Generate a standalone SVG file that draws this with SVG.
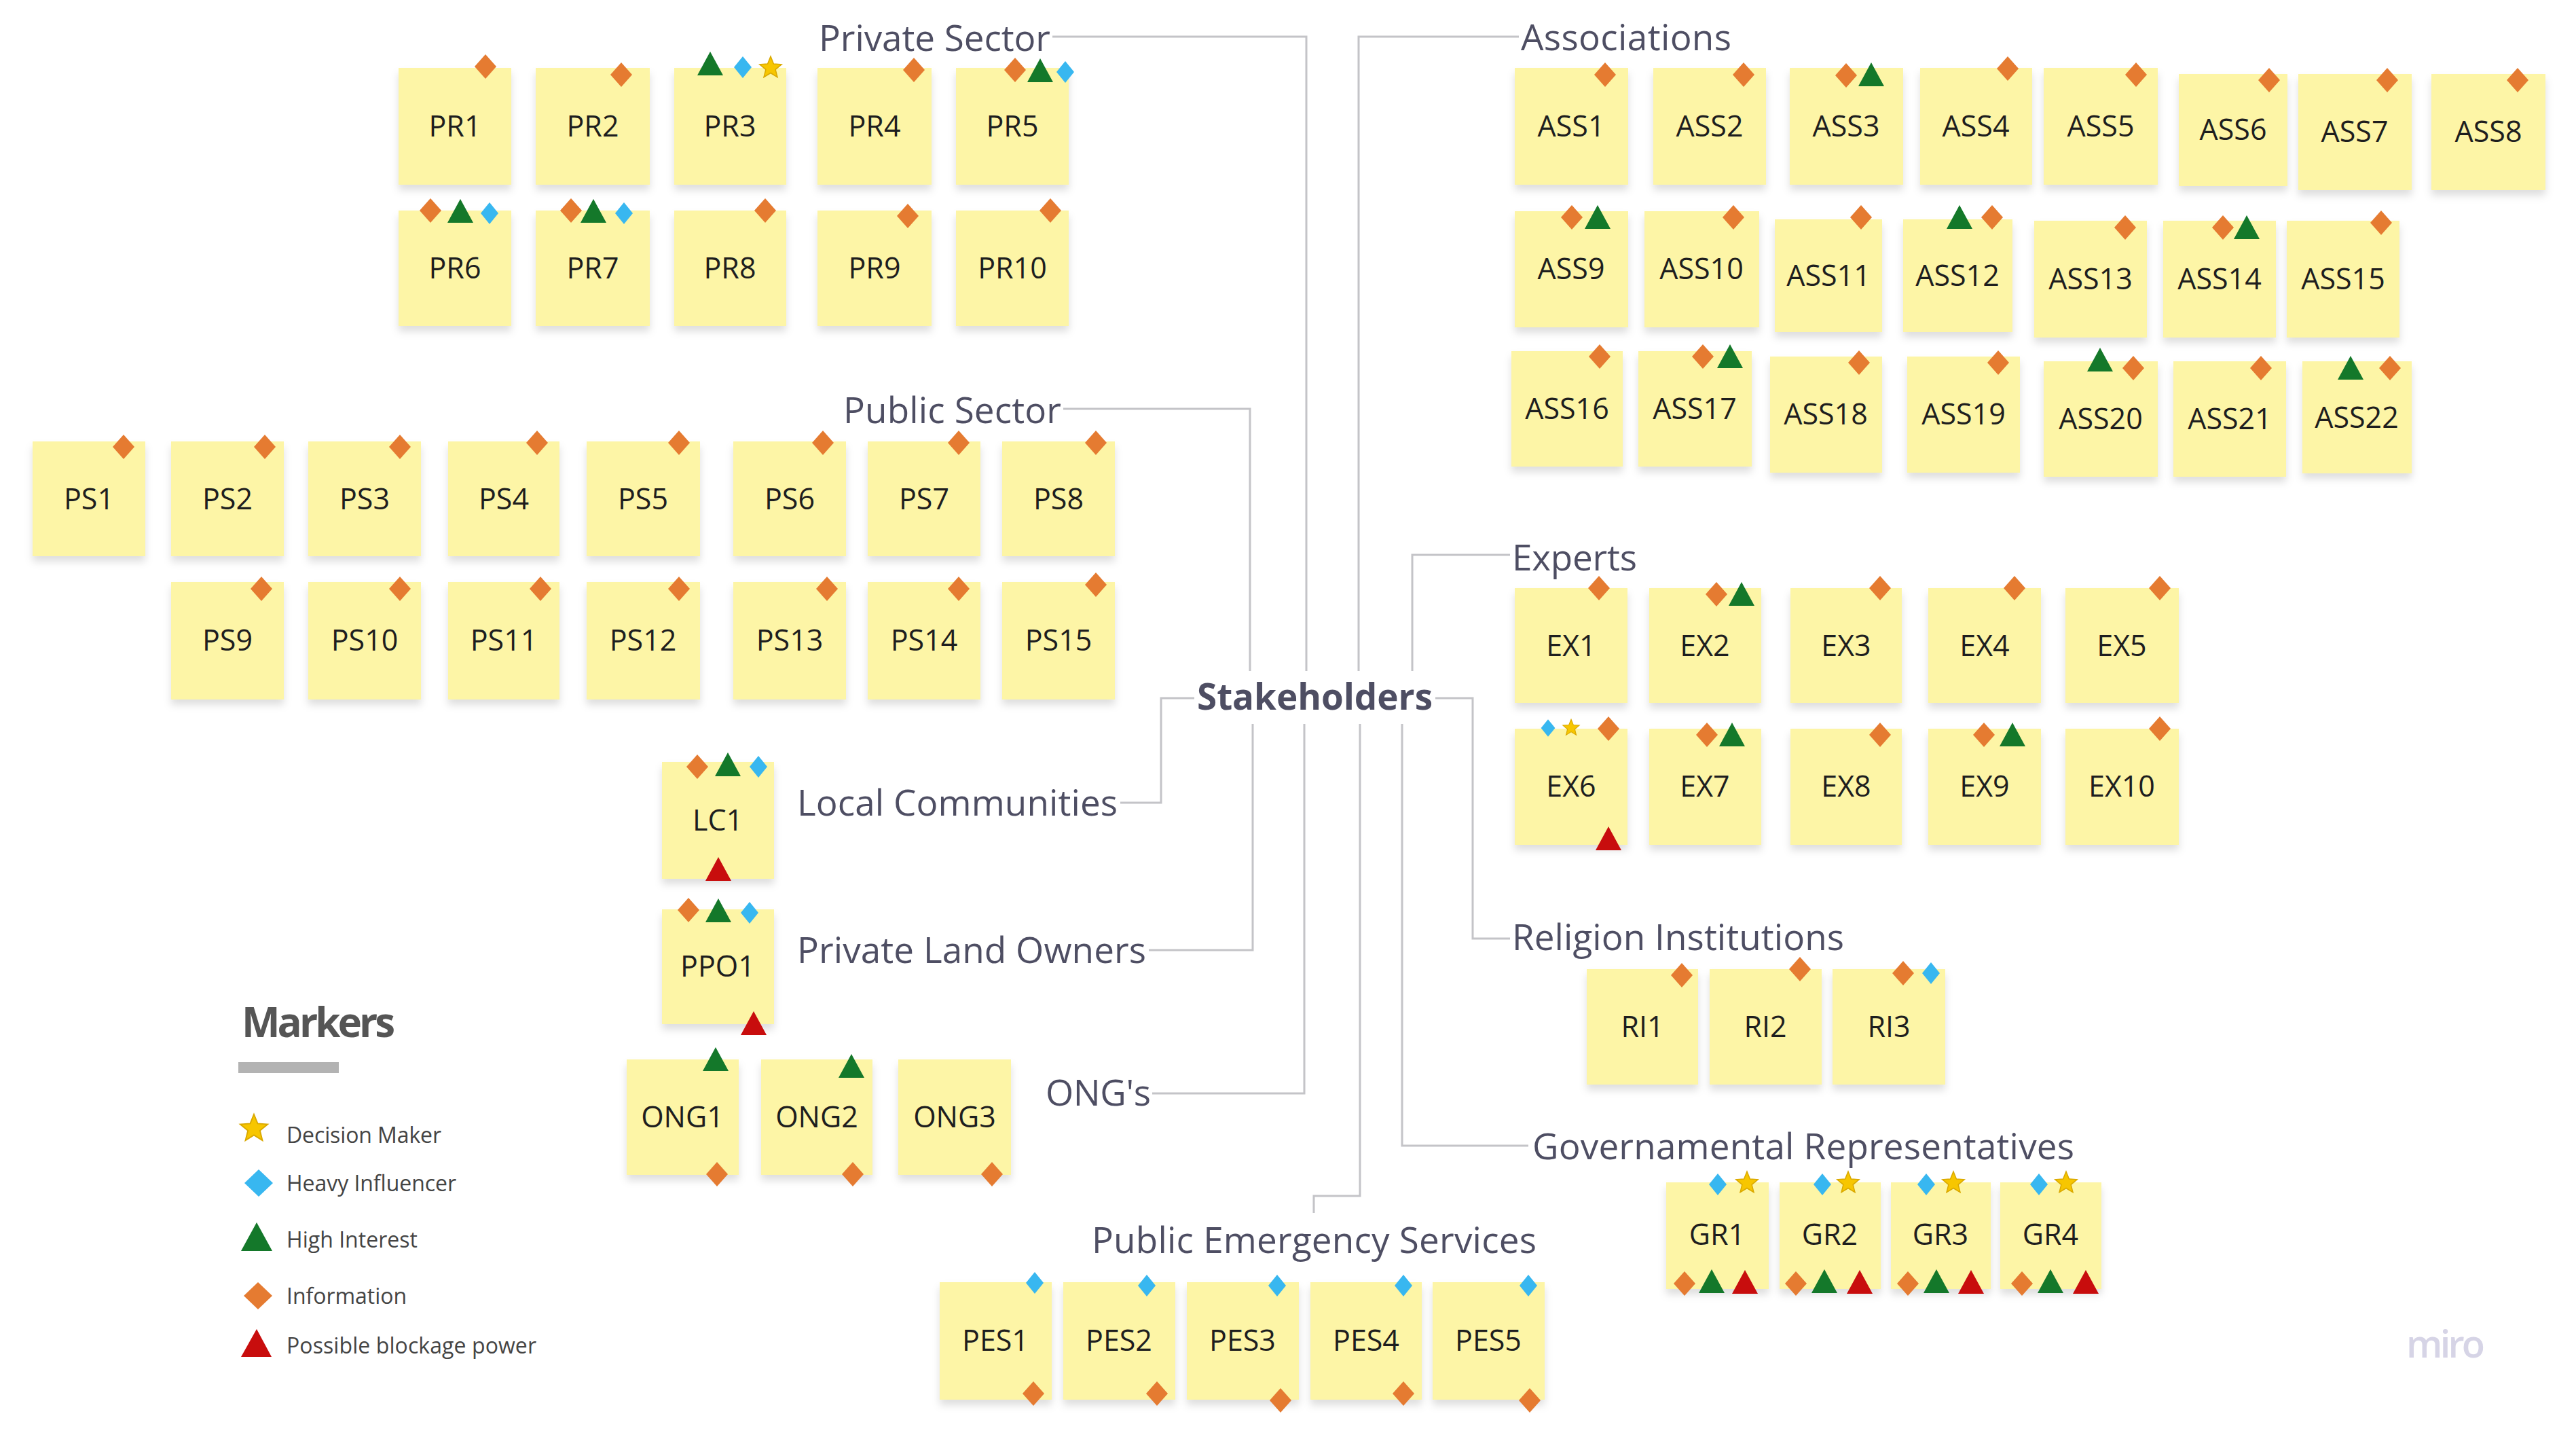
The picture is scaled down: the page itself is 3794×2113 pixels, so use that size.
<svg xmlns="http://www.w3.org/2000/svg" width="3794" height="2113" viewBox="0 0 3794 2113">
<style>
.n{fill:#fdf5a6}
.nt{font-family:"Open Sans","Liberation Sans",sans-serif;font-size:43px;fill:#1e1e1e;text-anchor:middle}
.lb{font-family:"Open Sans","Liberation Sans",sans-serif;font-size:53px;fill:#4e4e63}
.cn{fill:none;stroke:#c4c4c8;stroke-width:3}
.lg{font-family:"Open Sans","Liberation Sans",sans-serif;font-size:32px;fill:#444}
</style>
<defs>
<filter id="sh" x="-10%" y="-10%" width="120%" height="135%"><feDropShadow dx="0" dy="8" stdDeviation="6" flood-color="#000" flood-opacity="0.13"/></filter>
<polygon id="mI" points="0,-18 16,0 0,18 -16,0" fill="#e57b31"/>
<polygon id="mH" points="0,-16 13,0 0,16 -13,0" fill="#38b7f0"/>
<polygon id="mG" points="0,-18 19,17 -19,17" fill="#14782a"/>
<polygon id="mR" points="0,-18 19,17 -19,17" fill="#c80d0d"/>
<polygon id="mS" points="0,-17 4.41,-6.07 16.17,-5.25 7.13,2.32 9.99,13.75 0,7.5 -9.99,13.75 -7.13,2.32 -16.17,-5.25 -4.41,-6.07" fill="#f7c600" stroke="#d9a800" stroke-width="1.5"/>
</defs>
<rect width="3794" height="2113" fill="#fff"/>

<g id="connectors">
<path class="cn" d="M1550,54 H1924 V988"/>
<path class="cn" d="M1566,602 H1841 V988"/>
<path class="cn" d="M2001,988 V54 H2237"/>
<path class="cn" d="M2080,988 V817 H2224"/>
<path class="cn" d="M1759,1028 H1710 V1182 H1650"/>
<path class="cn" d="M2114,1028 H2169 V1382 H2224"/>
<path class="cn" d="M1845,1066 V1399 H1692"/>
<path class="cn" d="M1921,1066 V1610 H1697"/>
<path class="cn" d="M2003,1066 V1761 H1935 V1786"/>
<path class="cn" d="M2065,1066 V1687 H2251"/>
</g>

<g id="labels">
<text id="lbl-stakeholders" x="1763" y="1045" class="lb" font-weight="bold" textLength="347">Stakeholders</text>
<text id="lbl-private" x="1206" y="75" class="lb" textLength="341">Private Sector</text>
<text id="lbl-public" x="1242" y="623" class="lb" textLength="321">Public Sector</text>
<text id="lbl-assoc" x="2240" y="74" class="lb" textLength="310">Associations</text>
<text id="lbl-experts" x="2227" y="840" class="lb" textLength="184">Experts</text>
<text id="lbl-local" x="1174" y="1201" class="lb" textLength="472">Local Communities</text>
<text id="lbl-plo" x="1174" y="1418" class="lb" textLength="514">Private Land Owners</text>
<text id="lbl-ong" x="1540" y="1628" class="lb" textLength="155">ONG's</text>
<text id="lbl-religion" x="2227" y="1399" class="lb" textLength="489">Religion Institutions</text>
<text id="lbl-gov" x="2257" y="1707" class="lb" textLength="798">Governamental Representatives</text>
<text id="lbl-pes" x="1608" y="1845" class="lb" textLength="655">Public Emergency Services</text>
</g>

<!-- Private sector -->
<g id="PR1"><rect class="n" x="587" y="100" width="166" height="172" filter="url(#sh)"/><text class="nt" x="670" y="201">PR1</text><use href="#mI" x="715" y="98"/></g>
<g id="PR2"><rect class="n" x="789" y="100" width="168" height="172" filter="url(#sh)"/><text class="nt" x="873" y="201">PR2</text><use href="#mI" x="915" y="110"/></g>
<g id="PR3"><rect class="n" x="993" y="100" width="165" height="172" filter="url(#sh)"/><text class="nt" x="1075" y="201">PR3</text><use href="#mG" x="1046" y="94"/><use href="#mH" x="1094" y="99"/><use href="#mS" x="1135" y="100"/></g>
<g id="PR4"><rect class="n" x="1204" y="100" width="168" height="172" filter="url(#sh)"/><text class="nt" x="1288" y="201">PR4</text><use href="#mI" x="1346" y="103"/></g>
<g id="PR5"><rect class="n" x="1408" y="100" width="166" height="172" filter="url(#sh)"/><text class="nt" x="1491" y="201">PR5</text><use href="#mI" x="1495" y="103"/><use href="#mG" x="1532" y="104"/><use href="#mH" x="1569" y="106"/></g>
<g id="PR6"><rect class="n" x="587" y="310" width="166" height="170" filter="url(#sh)"/><text class="nt" x="670" y="410">PR6</text><use href="#mI" x="634" y="310"/><use href="#mG" x="678" y="311"/><use href="#mH" x="721" y="314"/></g>
<g id="PR7"><rect class="n" x="789" y="310" width="168" height="170" filter="url(#sh)"/><text class="nt" x="873" y="410">PR7</text><use href="#mI" x="841" y="310"/><use href="#mG" x="874" y="311"/><use href="#mH" x="919" y="314"/></g>
<g id="PR8"><rect class="n" x="993" y="310" width="165" height="170" filter="url(#sh)"/><text class="nt" x="1075" y="410">PR8</text><use href="#mI" x="1127" y="310"/></g>
<g id="PR9"><rect class="n" x="1204" y="310" width="168" height="170" filter="url(#sh)"/><text class="nt" x="1288" y="410">PR9</text><use href="#mI" x="1337" y="318"/></g>
<g id="PR10"><rect class="n" x="1408" y="310" width="166" height="170" filter="url(#sh)"/><text class="nt" x="1491" y="410">PR10</text><use href="#mI" x="1547" y="310"/></g>

<!-- Public sector -->
<g id="PS1"><rect class="n" x="48" y="650" width="166" height="169" filter="url(#sh)"/><text class="nt" x="131" y="750">PS1</text><use href="#mI" x="182" y="658"/></g>
<g id="PS2"><rect class="n" x="252" y="650" width="166" height="169" filter="url(#sh)"/><text class="nt" x="335" y="750">PS2</text><use href="#mI" x="390" y="658"/></g>
<g id="PS3"><rect class="n" x="454" y="650" width="166" height="169" filter="url(#sh)"/><text class="nt" x="537" y="750">PS3</text><use href="#mI" x="589" y="658"/></g>
<g id="PS4"><rect class="n" x="660" y="650" width="164" height="169" filter="url(#sh)"/><text class="nt" x="742" y="750">PS4</text><use href="#mI" x="791" y="652"/></g>
<g id="PS5"><rect class="n" x="864" y="650" width="167" height="169" filter="url(#sh)"/><text class="nt" x="947" y="750">PS5</text><use href="#mI" x="1000" y="652"/></g>
<g id="PS6"><rect class="n" x="1080" y="650" width="166" height="169" filter="url(#sh)"/><text class="nt" x="1163" y="750">PS6</text><use href="#mI" x="1212" y="652"/></g>
<g id="PS7"><rect class="n" x="1278" y="650" width="166" height="169" filter="url(#sh)"/><text class="nt" x="1361" y="750">PS7</text><use href="#mI" x="1412" y="652"/></g>
<g id="PS8"><rect class="n" x="1476" y="650" width="166" height="169" filter="url(#sh)"/><text class="nt" x="1559" y="750">PS8</text><use href="#mI" x="1614" y="652"/></g>
<g id="PS9"><rect class="n" x="252" y="857" width="166" height="173" filter="url(#sh)"/><text class="nt" x="335" y="958">PS9</text><use href="#mI" x="385" y="867"/></g>
<g id="PS10"><rect class="n" x="454" y="857" width="166" height="173" filter="url(#sh)"/><text class="nt" x="537" y="958">PS10</text><use href="#mI" x="589" y="867"/></g>
<g id="PS11"><rect class="n" x="660" y="857" width="164" height="173" filter="url(#sh)"/><text class="nt" x="742" y="958">PS11</text><use href="#mI" x="796" y="867"/></g>
<g id="PS12"><rect class="n" x="864" y="857" width="167" height="173" filter="url(#sh)"/><text class="nt" x="947" y="958">PS12</text><use href="#mI" x="1000" y="867"/></g>
<g id="PS13"><rect class="n" x="1080" y="857" width="166" height="173" filter="url(#sh)"/><text class="nt" x="1163" y="958">PS13</text><use href="#mI" x="1218" y="867"/></g>
<g id="PS14"><rect class="n" x="1278" y="857" width="166" height="173" filter="url(#sh)"/><text class="nt" x="1361" y="958">PS14</text><use href="#mI" x="1412" y="867"/></g>
<g id="PS15"><rect class="n" x="1476" y="857" width="166" height="173" filter="url(#sh)"/><text class="nt" x="1559" y="958">PS15</text><use href="#mI" x="1614" y="861"/></g>

<!-- Associations -->
<g id="ASS1"><rect class="n" x="2231" y="100" width="167" height="172" filter="url(#sh)"/><text class="nt" x="2314" y="201">ASS1</text><use href="#mI" x="2364" y="110"/></g>
<g id="ASS2"><rect class="n" x="2435" y="100" width="166" height="172" filter="url(#sh)"/><text class="nt" x="2518" y="201">ASS2</text><use href="#mI" x="2568" y="110"/></g>
<g id="ASS3"><rect class="n" x="2636" y="100" width="167" height="172" filter="url(#sh)"/><text class="nt" x="2719" y="201">ASS3</text><use href="#mI" x="2719" y="111"/><use href="#mG" x="2756" y="110"/></g>
<g id="ASS4"><rect class="n" x="2828" y="100" width="165" height="172" filter="url(#sh)"/><text class="nt" x="2910" y="201">ASS4</text><use href="#mI" x="2957" y="101"/></g>
<g id="ASS5"><rect class="n" x="3010" y="100" width="168" height="172" filter="url(#sh)"/><text class="nt" x="3094" y="201">ASS5</text><use href="#mI" x="3146" y="110"/></g>
<g id="ASS6"><rect class="n" x="3209" y="109" width="160" height="165" filter="url(#sh)"/><text class="nt" x="3289" y="206">ASS6</text><use href="#mI" x="3342" y="118"/></g>
<g id="ASS7"><rect class="n" x="3385" y="109" width="167" height="171" filter="url(#sh)"/><text class="nt" x="3468" y="209">ASS7</text><use href="#mI" x="3516" y="118"/></g>
<g id="ASS8"><rect class="n" x="3581" y="109" width="168" height="171" filter="url(#sh)"/><text class="nt" x="3665" y="209">ASS8</text><use href="#mI" x="3708" y="118"/></g>
<g id="ASS9"><rect class="n" x="2231" y="311" width="167" height="171" filter="url(#sh)"/><text class="nt" x="2314" y="411">ASS9</text><use href="#mI" x="2315" y="320"/><use href="#mG" x="2353" y="320"/></g>
<g id="ASS10"><rect class="n" x="2422" y="311" width="169" height="171" filter="url(#sh)"/><text class="nt" x="2506" y="411">ASS10</text><use href="#mI" x="2553" y="320"/></g>
<g id="ASS11"><rect class="n" x="2614" y="323" width="158" height="166" filter="url(#sh)"/><text class="nt" x="2693" y="421">ASS11</text><use href="#mI" x="2741" y="320"/></g>
<g id="ASS12"><rect class="n" x="2803" y="323" width="161" height="166" filter="url(#sh)"/><text class="nt" x="2883" y="421">ASS12</text><use href="#mG" x="2886" y="320"/><use href="#mI" x="2934" y="320"/></g>
<g id="ASS13"><rect class="n" x="2996" y="325" width="166" height="172" filter="url(#sh)"/><text class="nt" x="3079" y="426">ASS13</text><use href="#mI" x="3130" y="335"/></g>
<g id="ASS14"><rect class="n" x="3186" y="325" width="166" height="172" filter="url(#sh)"/><text class="nt" x="3269" y="426">ASS14</text><use href="#mI" x="3274" y="335"/><use href="#mG" x="3309" y="335"/></g>
<g id="ASS15"><rect class="n" x="3368" y="325" width="166" height="172" filter="url(#sh)"/><text class="nt" x="3451" y="426">ASS15</text><use href="#mI" x="3507" y="328"/></g>
<g id="ASS16"><rect class="n" x="2226" y="517" width="164" height="170" filter="url(#sh)"/><text class="nt" x="2308" y="617">ASS16</text><use href="#mI" x="2356" y="525"/></g>
<g id="ASS17"><rect class="n" x="2413" y="517" width="167" height="170" filter="url(#sh)"/><text class="nt" x="2496" y="617">ASS17</text><use href="#mI" x="2508" y="525"/><use href="#mG" x="2548" y="525"/></g>
<g id="ASS18"><rect class="n" x="2607" y="525" width="165" height="171" filter="url(#sh)"/><text class="nt" x="2689" y="625">ASS18</text><use href="#mI" x="2738" y="534"/></g>
<g id="ASS19"><rect class="n" x="2809" y="525" width="166" height="171" filter="url(#sh)"/><text class="nt" x="2892" y="625">ASS19</text><use href="#mI" x="2943" y="534"/></g>
<g id="ASS20"><rect class="n" x="3010" y="532" width="168" height="170" filter="url(#sh)"/><text class="nt" x="3094" y="632">ASS20</text><use href="#mG" x="3093" y="530"/><use href="#mI" x="3142" y="542"/></g>
<g id="ASS21"><rect class="n" x="3201" y="532" width="166" height="170" filter="url(#sh)"/><text class="nt" x="3284" y="632">ASS21</text><use href="#mI" x="3330" y="542"/></g>
<g id="ASS22"><rect class="n" x="3391" y="532" width="161" height="165" filter="url(#sh)"/><text class="nt" x="3471" y="630">ASS22</text><use href="#mG" x="3462" y="542"/><use href="#mI" x="3520" y="542"/></g>

<!-- Experts -->
<g id="EX1"><rect class="n" x="2231" y="866" width="166" height="169" filter="url(#sh)"/><text class="nt" x="2314" y="966">EX1</text><use href="#mI" x="2355" y="866"/></g>
<g id="EX2"><rect class="n" x="2429" y="866" width="165" height="169" filter="url(#sh)"/><text class="nt" x="2511" y="966">EX2</text><use href="#mI" x="2528" y="875"/><use href="#mG" x="2565" y="875"/></g>
<g id="EX3"><rect class="n" x="2637" y="866" width="164" height="169" filter="url(#sh)"/><text class="nt" x="2719" y="966">EX3</text><use href="#mI" x="2769" y="866"/></g>
<g id="EX4"><rect class="n" x="2840" y="866" width="166" height="169" filter="url(#sh)"/><text class="nt" x="2923" y="966">EX4</text><use href="#mI" x="2967" y="866"/></g>
<g id="EX5"><rect class="n" x="3042" y="866" width="167" height="169" filter="url(#sh)"/><text class="nt" x="3125" y="966">EX5</text><use href="#mI" x="3181" y="866"/></g>
<g id="EX6"><rect class="n" x="2231" y="1073" width="166" height="171" filter="url(#sh)"/><text class="nt" x="2314" y="1173">EX6</text><use href="#mH" x="2280" y="1072" transform="translate(2280 1072) scale(0.8) translate(-2280 -1072)"/><use href="#mS" x="2314" y="1072" transform="translate(2314 1072) scale(0.75) translate(-2314 -1072)"/><use href="#mI" x="2369" y="1073"/><use href="#mR" x="2369" y="1235"/></g>
<g id="EX7"><rect class="n" x="2429" y="1073" width="165" height="171" filter="url(#sh)"/><text class="nt" x="2511" y="1173">EX7</text><use href="#mI" x="2514" y="1082"/><use href="#mG" x="2551" y="1082"/></g>
<g id="EX8"><rect class="n" x="2637" y="1073" width="164" height="171" filter="url(#sh)"/><text class="nt" x="2719" y="1173">EX8</text><use href="#mI" x="2769" y="1082"/></g>
<g id="EX9"><rect class="n" x="2840" y="1073" width="166" height="171" filter="url(#sh)"/><text class="nt" x="2923" y="1173">EX9</text><use href="#mI" x="2922" y="1082"/><use href="#mG" x="2964" y="1082"/></g>
<g id="EX10"><rect class="n" x="3042" y="1073" width="167" height="171" filter="url(#sh)"/><text class="nt" x="3125" y="1173">EX10</text><use href="#mI" x="3181" y="1073"/></g>

<!-- Religion -->
<g id="RI1"><rect class="n" x="2337" y="1427" width="164" height="170" filter="url(#sh)"/><text class="nt" x="2419" y="1527">RI1</text><use href="#mI" x="2477" y="1436"/></g>
<g id="RI2"><rect class="n" x="2518" y="1427" width="165" height="170" filter="url(#sh)"/><text class="nt" x="2600" y="1527">RI2</text><use href="#mI" x="2651" y="1427"/></g>
<g id="RI3"><rect class="n" x="2699" y="1427" width="166" height="170" filter="url(#sh)"/><text class="nt" x="2782" y="1527">RI3</text><use href="#mI" x="2803" y="1433"/><use href="#mH" x="2844" y="1433"/></g>

<!-- Local communities / private land owners / ONG -->
<g id="LC1"><rect class="n" x="975" y="1122" width="165" height="172" filter="url(#sh)"/><text class="nt" x="1057" y="1223">LC1</text><use href="#mI" x="1027" y="1129"/><use href="#mG" x="1072" y="1126"/><use href="#mH" x="1117" y="1129"/><use href="#mR" x="1058" y="1280"/></g>
<g id="PPO1"><rect class="n" x="975" y="1339" width="165" height="169" filter="url(#sh)"/><text class="nt" x="1057" y="1438">PPO1</text><use href="#mI" x="1014" y="1340"/><use href="#mG" x="1058" y="1341"/><use href="#mH" x="1104" y="1344"/><use href="#mR" x="1110" y="1507"/></g>
<g id="ONG1"><rect class="n" x="923" y="1560" width="165" height="170" filter="url(#sh)"/><text class="nt" x="1005" y="1660">ONG1</text><use href="#mG" x="1054" y="1560"/><use href="#mI" x="1056" y="1729"/></g>
<g id="ONG2"><rect class="n" x="1121" y="1560" width="164" height="170" filter="url(#sh)"/><text class="nt" x="1203" y="1660">ONG2</text><use href="#mG" x="1254" y="1570"/><use href="#mI" x="1256" y="1729"/></g>
<g id="ONG3"><rect class="n" x="1323" y="1560" width="166" height="170" filter="url(#sh)"/><text class="nt" x="1406" y="1660">ONG3</text><use href="#mI" x="1461" y="1729"/></g>

<!-- Public emergency services -->
<g id="PES1"><rect class="n" x="1384" y="1888" width="165" height="173" filter="url(#sh)"/><text class="nt" x="1466" y="1989">PES1</text><use href="#mH" x="1524" y="1889"/><use href="#mI" x="1522" y="2052"/></g>
<g id="PES2"><rect class="n" x="1566" y="1888" width="165" height="173" filter="url(#sh)"/><text class="nt" x="1648" y="1989">PES2</text><use href="#mH" x="1689" y="1893"/><use href="#mI" x="1704" y="2052"/></g>
<g id="PES3"><rect class="n" x="1748" y="1888" width="165" height="173" filter="url(#sh)"/><text class="nt" x="1830" y="1989">PES3</text><use href="#mH" x="1881" y="1893"/><use href="#mI" x="1886" y="2062"/></g>
<g id="PES4"><rect class="n" x="1930" y="1888" width="164" height="173" filter="url(#sh)"/><text class="nt" x="2012" y="1989">PES4</text><use href="#mH" x="2067" y="1893"/><use href="#mI" x="2067" y="2052"/></g>
<g id="PES5"><rect class="n" x="2110" y="1888" width="165" height="173" filter="url(#sh)"/><text class="nt" x="2192" y="1989">PES5</text><use href="#mH" x="2251" y="1893"/><use href="#mI" x="2253" y="2062"/></g>

<!-- Governmental representatives -->
<g id="GR1"><rect class="n" x="2454" y="1741" width="151" height="157" filter="url(#sh)"/><text class="nt" x="2529" y="1833">GR1</text><use href="#mH" x="2530" y="1744"/><use href="#mS" x="2573" y="1742"/><use href="#mI" x="2481" y="1890"/><use href="#mG" x="2521" y="1887"/><use href="#mR" x="2570" y="1888"/></g>
<g id="GR2"><rect class="n" x="2621" y="1741" width="149" height="157" filter="url(#sh)"/><text class="nt" x="2695" y="1833">GR2</text><use href="#mH" x="2684" y="1744"/><use href="#mS" x="2722" y="1742"/><use href="#mI" x="2645" y="1890"/><use href="#mG" x="2687" y="1887"/><use href="#mR" x="2739" y="1888"/></g>
<g id="GR3"><rect class="n" x="2785" y="1741" width="147" height="157" filter="url(#sh)"/><text class="nt" x="2858" y="1833">GR3</text><use href="#mH" x="2837" y="1744"/><use href="#mS" x="2877" y="1742"/><use href="#mI" x="2810" y="1890"/><use href="#mG" x="2852" y="1887"/><use href="#mR" x="2903" y="1888"/></g>
<g id="GR4"><rect class="n" x="2946" y="1741" width="149" height="157" filter="url(#sh)"/><text class="nt" x="3020" y="1833">GR4</text><use href="#mH" x="3003" y="1744"/><use href="#mS" x="3043" y="1742"/><use href="#mI" x="2978" y="1890"/><use href="#mG" x="3020" y="1887"/><use href="#mR" x="3072" y="1888"/></g>

<!-- Legend -->
<g id="legend">
<text x="356" y="1527" font-family="'Open Sans','Liberation Sans',sans-serif" font-size="60" font-weight="bold" fill="#555" textLength="226">Markers</text>
<rect x="351" y="1564" width="148" height="16" fill="#b3b3b3"/>
<use href="#mS" transform="translate(374 1662) scale(1.25)"/>
<text class="lg" x="422" y="1683" textLength="228">Decision Maker</text>
<polygon points="381,1722 402,1742 381,1762 360,1742" fill="#38b7f0"/>
<text class="lg" x="422" y="1754" textLength="250">Heavy Influencer</text>
<polygon points="378,1800 401,1842 355,1842" fill="#14782a"/>
<text class="lg" x="422" y="1837" textLength="193">High Interest</text>
<polygon points="380,1888 401,1908 380,1928 359,1908" fill="#e57b31"/>
<text class="lg" x="422" y="1920" textLength="177">Information</text>
<polygon points="378,1957 400,1998 355,1998" fill="#c80d0d"/>
<text class="lg" x="422" y="1993" textLength="368">Possible blockage power</text>
</g>

<g id="logo">
<text x="3544" y="1999" font-family="'Open Sans','Liberation Sans',sans-serif" font-size="56" font-weight="600" fill="#d6d4e6" textLength="116">miro</text>
</g>
</svg>
